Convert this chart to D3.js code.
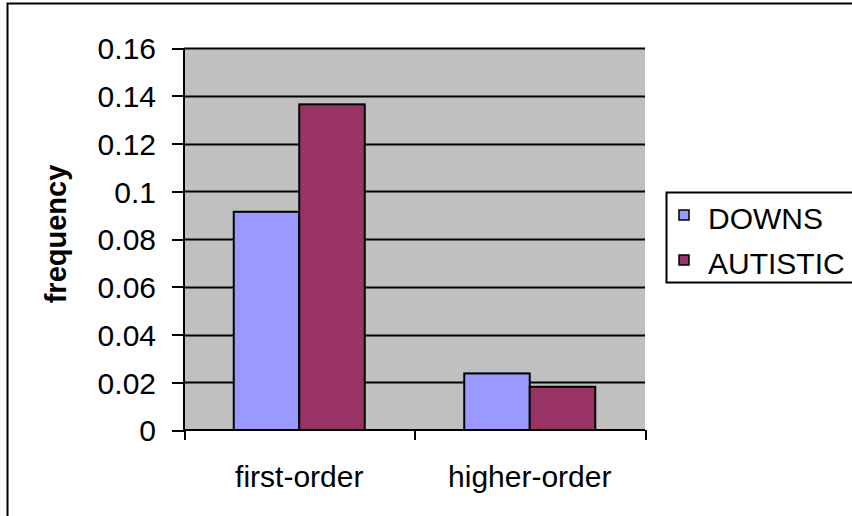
<!DOCTYPE html>
<meta charset="utf-8">
<style>
body { margin: 0; background: #fff; }
svg text { font-family: "Liberation Sans", Arial, sans-serif; fill: #000; }
.axis path, .axis line { stroke: #000; stroke-width: 2; shape-rendering: crispEdges; }
</style>
<svg width="852" height="516"></svg>
<script src="https://d3js.org/d3.v7.min.js"></script>
<script>

var categories = ["first-order", "higher-order"];
var seriesNames = ["DOWNS", "AUTISTIC"];
var downs = [0.0914, 0.0237];
var autistic = [0.1364, 0.0181];
var yTicks = [0, 0.02, 0.04, 0.06, 0.08, 0.1, 0.12, 0.14, 0.16];

var colors = {"DOWNS": "#9999ff", "AUTISTIC": "#993366"};

var svg = d3.select("svg"),
    margin = {top: 48, left: 184},
    width = 461,
    height = 382;

// outer frame (only top + left visible in the original crop)
svg.append("path")
    .attr("d", "M7.5,520V3.5H860")
    .attr("fill", "none")
    .attr("stroke", "#000")
    .attr("stroke-width", 2);

var g = svg.append("g")
    .attr("transform", "translate(" + margin.left + "," + margin.top + ")");

var x = d3.scaleBand().domain(categories).range([0, width]);
var x1 = d3.scaleBand().domain(seriesNames).range([0, 131]);
var y = d3.scaleLinear().domain([0, 0.16]).range([height, 0]);

// plot background
g.append("rect")
    .attr("width", width)
    .attr("height", height)
    .attr("fill", "#c0c0c0");

// gridlines
g.selectAll(".grid").data(yTicks.slice(1))
  .enter().append("line")
    .attr("x1", 0).attr("x2", width)
    .attr("y1", function(d) { return Math.round(y(d)) + 0.5; })
    .attr("y2", function(d) { return Math.round(y(d)) + 0.5; })
    .attr("stroke", "#000")
    .attr("stroke-width", 2);

var data = categories.map(function(c, i) {
  return {cat: c, values: [{name: "DOWNS", v: downs[i]}, {name: "AUTISTIC", v: autistic[i]}]};
});

var groups = g.selectAll(".grp").data(data)
  .enter().append("g")
    .attr("transform", function(d) { return "translate(" + (x(d.cat) + (x.bandwidth() - 131) / 2) + ",0)"; });

groups.selectAll("rect").data(function(d) { return d.values; })
  .enter().append("rect")
    .attr("x", function(d) { return x1(d.name); })
    .attr("y", function(d) { return y(d.v); })
    .attr("width", x1.bandwidth())
    .attr("height", function(d) { return height - y(d.v); })
    .attr("fill", function(d) { return colors[d.name]; })
    .attr("stroke", "#000")
    .attr("stroke-width", 2);

// y axis
var yAxis = d3.axisLeft(y).tickValues(yTicks).tickSize(12).tickPadding(16)
    .tickFormat(function(d) { return d3.format("")(+d.toFixed(2)); });
g.append("g").attr("class", "axis")
    .call(yAxis)
    .call(function(s) { s.select(".domain").attr("d", "M0," + height + "V0"); })
    .selectAll("text").style("font-size", "30px").attr("dy", "0.36em");

// x axis
var xAxis = d3.axisBottom(d3.scaleLinear().domain([0, 2]).range([0, width]))
    .tickValues([0, 1, 2]).tickSize(10).tickFormat("");
g.append("g").attr("class", "axis")
    .attr("transform", "translate(0," + height + ")")
    .call(xAxis)
    .call(function(s) { s.select(".domain").attr("d", "M0,0H" + width); });

g.selectAll(".xlab").data(categories)
  .enter().append("text")
    .attr("x", function(d) { return x(d) + x.bandwidth() / 2; })
    .attr("y", height + 57)
    .attr("text-anchor", "middle")
    .style("font-size", "30px")
    .text(function(d) { return d; });

// y label
svg.append("text")
    .attr("transform", "translate(66,234) rotate(-90)")
    .attr("text-anchor", "middle")
    .style("font-size", "29px")
    .style("font-weight", "bold")
    .text("frequency");

// legend
var legend = svg.append("g").attr("transform", "translate(666,192)");
legend.append("rect")
    .attr("x", 0.5).attr("y", 0.5)
    .attr("width", 200).attr("height", 90)
    .attr("fill", "#fff")
    .attr("stroke", "#000")
    .attr("stroke-width", 2);

var items = legend.selectAll(".item").data(seriesNames)
  .enter().append("g")
    .attr("transform", function(d, i) { return "translate(0," + (i * 45) + ")"; });

items.append("rect")
    .attr("x", 13).attr("y", 18)
    .attr("width", 10).attr("height", 10)
    .attr("fill", function(d) { return colors[d]; })
    .attr("stroke", "#000")
    .attr("stroke-width", 1.5);

items.append("text")
    .attr("x", 42).attr("y", 37)
    .style("font-size", "30px")
    .text(function(d) { return d; });

</script>
